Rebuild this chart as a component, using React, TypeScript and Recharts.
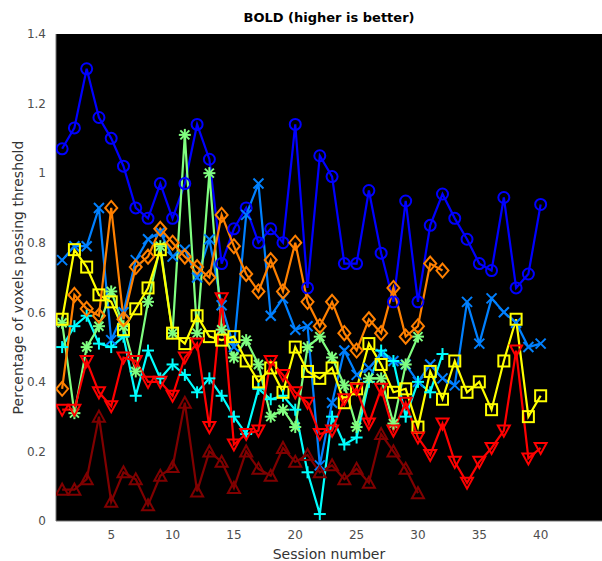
import { CartesianGrid, Line, LineChart, XAxis, YAxis } from "recharts";

// session index along the x axis
const sessions = [
  1, 2, 3, 4, 5, 6, 7, 8, 9, 10, 11, 12, 13, 14, 15, 16, 17, 18, 19, 20,
  21, 22, 23, 24, 25, 26, 27, 28, 29, 30, 31, 32, 33, 34, 35, 36, 37, 38, 39, 40,
];

// fraction of voxels passing threshold, one list per run
const runBlue = [
  1.07, 1.13, 1.3, 1.16, 1.1, 1.02, 0.9, 0.87, 0.97, 0.87, 0.97, 1.14, 1.04, 0.74, 0.84, 0.9, 0.8, 0.84, 0.8, 1.14,
  0.67, 1.05, 0.99, 0.74, 0.74, 0.95, 0.77, 0.63, 0.92, 0.63, 0.85, 0.94, 0.87, 0.81, 0.74, 0.72, 0.93, 0.67, 0.71, 0.91,
];
const runAzure = [
  0.75, 0.79, 0.79, 0.9, 0.52, 0.6, 0.75, 0.81, 0.83, 0.76, 0.78, 0.7, 0.81, 0.62, 0.5, 0.88, 0.97, 0.59, 0.64, 0.55,
  0.56, 0.16, 0.34, 0.49, 0.42, 0.44, 0.48, 0.46, 0.45, 0.4, 0.45, 0.41, 0.39, 0.63, 0.51, 0.64, 0.6, 0.57, 0.5, 0.51,
];
const runCyan = [
  0.5, 0.56, 0.59, 0.51, 0.5, 0.53, 0.36, 0.49, 0.41, 0.45, 0.42, 0.37, 0.41, 0.36, 0.3, 0.25, 0.38, 0.35, 0.36, 0.32,
  0.14, 0.02, 0.3, 0.22, 0.24, 0.4, 0.49, 0.46, 0.3, 0.4, 0.37, 0.48,
];
const runGreen = [
  0.57, 0.31, 0.5, 0.56, 0.66, 0.56, 0.43, 0.63, 0.79, 0.54, 1.11, 0.54, 1.0, 0.55, 0.47, 0.52, 0.45, 0.3, 0.32, 0.27,
  0.5, 0.53, 0.47, 0.39, 0.27, 0.41, 0.41, 0.28, 0.45, 0.53,
];
const runYellow = [
  0.58, 0.78, 0.73, 0.65, 0.63, 0.55, 0.61, 0.67, 0.78, 0.54, 0.51, 0.59, 0.53, 0.52, 0.53, 0.46, 0.4, 0.44, 0.37, 0.5,
  0.43, 0.41, 0.44, 0.34, 0.38, 0.51, 0.45, 0.37, 0.38, 0.27, 0.43, 0.35, 0.46, 0.37, 0.4, 0.32, 0.46, 0.58, 0.3, 0.36,
];
const runOrange = [
  0.38, 0.65, 0.61, 0.59, 0.9, 0.58, 0.73, 0.76, 0.84, 0.8, 0.76, 0.73, 0.7, 0.88, 0.79, 0.71, 0.66, 0.75, 0.66, 0.8,
  0.63, 0.56, 0.63, 0.54, 0.49, 0.58, 0.54, 0.67, 0.53, 0.56, 0.74, 0.72,
];
const runRed = [
  0.32, 0.32, 0.46, 0.37, 0.33, 0.47, 0.46, 0.4, 0.4, 0.36, 0.47, 0.51, 0.27, 0.64, 0.22, 0.25, 0.26, 0.46, 0.42, 0.37,
  0.34, 0.25, 0.26, 0.35, 0.38, 0.28, 0.38, 0.26, 0.34, 0.24, 0.19, 0.28, 0.17, 0.11, 0.17, 0.21, 0.26, 0.49, 0.18, 0.21,
];
const runMaroon = [
  0.09, 0.09, 0.12, 0.3, 0.055, 0.14, 0.12, 0.045, 0.13, 0.155, 0.34, 0.085, 0.2, 0.17, 0.095, 0.2, 0.15, 0.13, 0.21, 0.17,
  0.19, 0.14, 0.16, 0.12, 0.15, 0.11, 0.25, 0.2, 0.15, 0.08,
];

const xTicks = [5, 10, 15, 20, 25, 30, 35, 40];
const yTicks = [0, 0.2, 0.4, 0.6, 0.8, 1, 1.2, 1.4];

type MarkerKind = "o" | "x" | "+" | "*" | "s" | "d" | "v" | "^";

// jet(8) colours with the default marker cycle
const SERIES: { key: string; values: number[]; color: string; marker: MarkerKind }[] = [
  { key: "blue", values: runBlue, color: "#0000ff", marker: "o" },
  { key: "azure", values: runAzure, color: "#0080ff", marker: "x" },
  { key: "cyan", values: runCyan, color: "#00ffff", marker: "+" },
  { key: "green", values: runGreen, color: "#80ff80", marker: "*" },
  { key: "yellow", values: runYellow, color: "#ffff00", marker: "s" },
  { key: "orange", values: runOrange, color: "#ff8000", marker: "d" },
  { key: "red", values: runRed, color: "#ff0000", marker: "v" },
  { key: "maroon", values: runMaroon, color: "#800000", marker: "^" },
];

const rows = sessions.map((s, i) => {
  const row: Record<string, number | undefined> = { session: s };
  SERIES.forEach((ser) => {
    row[ser.key] = ser.values[i];
  });
  return row;
});

const FONT = "'DejaVu Sans', sans-serif";

function Marker({ cx, cy, color, kind }: { cx: number; cy: number; color: string; kind: MarkerKind }) {
  const common = { stroke: color, strokeWidth: 2, fill: "none" };
  switch (kind) {
    case "o":
      return <circle cx={cx} cy={cy} r={5.5} {...common} />;
    case "x":
      return (
        <g {...common}>
          <line x1={cx - 5} y1={cy - 5} x2={cx + 5} y2={cy + 5} />
          <line x1={cx - 5} y1={cy + 5} x2={cx + 5} y2={cy - 5} />
        </g>
      );
    case "+":
      return (
        <g {...common}>
          <line x1={cx - 6} y1={cy} x2={cx + 6} y2={cy} />
          <line x1={cx} y1={cy - 6} x2={cx} y2={cy + 6} />
        </g>
      );
    case "*":
      return (
        <g {...common}>
          <line x1={cx - 6} y1={cy} x2={cx + 6} y2={cy} />
          <line x1={cx} y1={cy - 6} x2={cx} y2={cy + 6} />
          <line x1={cx - 4.5} y1={cy - 4.5} x2={cx + 4.5} y2={cy + 4.5} />
          <line x1={cx - 4.5} y1={cy + 4.5} x2={cx + 4.5} y2={cy - 4.5} />
        </g>
      );
    case "s":
      return <rect x={cx - 5.5} y={cy - 5.5} width={11} height={11} {...common} />;
    case "d":
      return <polygon points={`${cx},${cy - 7} ${cx + 6},${cy} ${cx},${cy + 7} ${cx - 6},${cy}`} {...common} />;
    case "v":
      return <polygon points={`${cx - 6},${cy - 5} ${cx + 6},${cy - 5} ${cx},${cy + 6}`} {...common} />;
    case "^":
      return <polygon points={`${cx - 6},${cy + 5} ${cx + 6},${cy + 5} ${cx},${cy - 6}`} {...common} />;
  }
}

export default function App() {
  return (
    <div style={{ position: "absolute", left: 0, top: 0, width: 602, height: 561, background: "#fff", fontFamily: FONT }}>
      <div
        style={{
          position: "absolute",
          left: 56,
          width: 546,
          top: 10,
          textAlign: "center",
          fontWeight: "bold",
          fontSize: 13,
          color: "#000",
        }}
      >
        BOLD (higher is better)
      </div>
      <LineChart width={602} height={561} data={rows} margin={{ top: 34, right: 0, bottom: 0, left: 6 }}>
        <CartesianGrid fill="#000" horizontal={false} vertical={false} />
        <XAxis
          dataKey="session"
          type="number"
          domain={[0.5, 45]}
          ticks={xTicks}
          allowDataOverflow
          height={40}
          axisLine={{ stroke: "#777" }}
          tickLine={false}
          tickMargin={3}
          tick={{ fill: "#4d4d4d", fontSize: 12, fontFamily: FONT }}
          label={{ value: "Session number", position: "insideBottom", offset: 2, fill: "#333", fontSize: 14, fontFamily: FONT }}
        />
        <XAxis xAxisId="top" orientation="top" dataKey="session" type="number" domain={[0.5, 45]} height={0} tick={false} tickLine={false} axisLine={{ stroke: "#999" }} />
        <YAxis
          type="number"
          domain={[0, 1.4]}
          ticks={yTicks}
          width={50}
          axisLine={{ stroke: "#777" }}
          tickLine={false}
          tickMargin={4}
          tick={{ fill: "#4d4d4d", fontSize: 12, fontFamily: FONT }}
          label={{
            value: "Percentage of voxels passing threshold",
            angle: -90,
            position: "insideLeft",
            offset: 12,
            style: { textAnchor: "middle" },
            fill: "#333",
            fontSize: 14,
            fontFamily: FONT,
          }}
        />
        {SERIES.map((ser) => (
          <Line
            key={ser.key}
            dataKey={ser.key}
            stroke={ser.color}
            strokeWidth={2.2}
            isAnimationActive={false}
            activeDot={false}
            dot={(p: any) =>
              p.cy == null || p.value == null ? (
                <g key={`${ser.key}-${p.index}`} />
              ) : (
                <Marker key={`${ser.key}-${p.index}`} cx={p.cx} cy={p.cy} color={ser.color} kind={ser.marker} />
              )
            }
          />
        ))}
      </LineChart>
    </div>
  );
}
